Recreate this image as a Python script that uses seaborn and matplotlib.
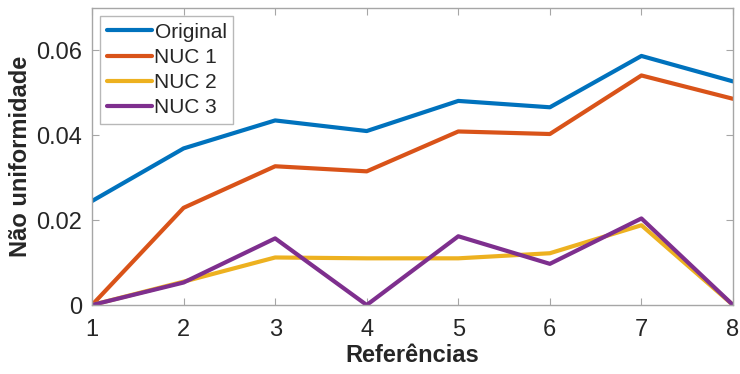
import numpy as np
import pandas as pd
import matplotlib
matplotlib.use("Agg")
import matplotlib.pyplot as plt
import seaborn as sns

referencias = [1, 2, 3, 4, 5, 6, 7, 8]
original = [0.0245, 0.0369, 0.0435, 0.0410, 0.0481, 0.0466, 0.0587, 0.0527]
nuc1 = [0.0, 0.0229, 0.0327, 0.0315, 0.0409, 0.0403, 0.0541, 0.0486]
nuc2 = [0.0, 0.0055, 0.0112, 0.0110, 0.0110, 0.0122, 0.0188, 0.0]
nuc3 = [0.0, 0.0053, 0.0157, 0.0, 0.0162, 0.0097, 0.0204, 0.0]
series_names = ["Original", "NUC 1", "NUC 2", "NUC 3"]
colors = ["#0072BD", "#D95319", "#EDB120", "#7E2F8E"]

frames = []
for name, vals in zip(series_names, [original, nuc1, nuc2, nuc3]):
    frames.append(pd.DataFrame({"Referências": referencias, "valor": vals, "serie": name}))
df = pd.concat(frames, ignore_index=True)

sns.set_theme(style="white")
plt.rcParams["font.family"] = ["Liberation Sans", "DejaVu Sans"]

fig = plt.figure(figsize=(7.4, 3.74), dpi=100)
ax = fig.add_axes([92 / 740, 1 - 305 / 374, (733 - 92) / 740, (305 - 8) / 374])

sns.lineplot(data=df, x="Referências", y="valor", hue="serie", hue_order=series_names,
             palette=colors, linewidth=3.0, ax=ax, legend=True)

ax.set_xlim(1, 8)
ax.set_ylim(0, 0.07)
ax.set_xticks(referencias)
ax.set_yticks([0, 0.02, 0.04, 0.06])
ax.set_yticklabels(["0", "0.02", "0.04", "0.06"])
ax.set_xlabel("Referências", fontsize=17, fontweight="bold", color="#262626", labelpad=2)
ax.set_ylabel("Não uniformidade", fontsize=17, fontweight="bold", color="#262626", labelpad=3)

spine_color = "#A6A6A6"
for s in ax.spines.values():
    s.set_visible(True)
    s.set_color(spine_color)
    s.set_linewidth(1.0)
ax.tick_params(axis="both", direction="in", length=5, width=0.8, color=spine_color,
               labelsize=17, labelcolor="#262626", top=True, right=True,
               bottom=True, left=True)
ax.tick_params(axis="x", pad=10)
ax.tick_params(axis="y", pad=7)

leg = ax.legend(loc="upper left", fontsize=15, handlelength=2.2, handletextpad=0.1,
                borderpad=0.3, labelspacing=0.3, borderaxespad=0.4,
                frameon=True, fancybox=False, edgecolor=spine_color)
leg.get_frame().set_linewidth(1.0)
for line in leg.get_lines():
    line.set_linewidth(3.0)

fig.savefig("out.png", dpi=100)
